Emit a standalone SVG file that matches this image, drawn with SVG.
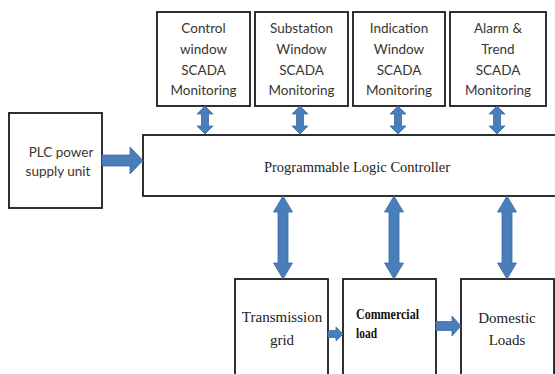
<svg xmlns="http://www.w3.org/2000/svg" width="555" height="374" viewBox="0 0 555 374">
<style>
.box{fill:#fff;stroke:#1a1a1a;stroke-width:1.8}
.arr{fill:#4a7ebb;stroke:#3d6ca3;stroke-width:0.8}
.sans{font-family:Lato,"Liberation Sans",sans-serif;font-size:13.5px;fill:#3a3530;text-anchor:middle}
.serif{font-family:"Liberation Serif","Times New Roman",serif;font-size:15px;fill:#222;text-anchor:middle}
.cond{font-family:"Liberation Serif","Times New Roman",serif;font-size:15.5px;font-weight:bold;fill:#111;text-anchor:start}
</style>
<rect width="555" height="374" fill="#fff"/>
<g id="node-control">
<rect class="box" x="157" y="12" width="93" height="94"/>
<text class="sans" x="203.5" y="33">Control</text>
<text class="sans" x="203.5" y="54">window</text>
<text class="sans" x="203.5" y="75">SCADA</text>
<text class="sans" x="203.5" y="95">Monitoring</text>
</g>
<g id="node-substation">
<rect class="box" x="255" y="12" width="93" height="94"/>
<text class="sans" x="301.5" y="33">Substation</text>
<text class="sans" x="301.5" y="54">Window</text>
<text class="sans" x="301.5" y="75">SCADA</text>
<text class="sans" x="301.5" y="95">Monitoring</text>
</g>
<g id="node-indication">
<rect class="box" x="353" y="12" width="92" height="94"/>
<text class="sans" x="399" y="33">Indication</text>
<text class="sans" x="399" y="54">Window</text>
<text class="sans" x="399" y="75">SCADA</text>
<text class="sans" x="399" y="95">Monitoring</text>
</g>
<g id="node-alarm">
<rect class="box" x="450" y="12" width="96" height="94"/>
<text class="sans" x="498" y="33">Alarm &amp;</text>
<text class="sans" x="498" y="54">Trend</text>
<text class="sans" x="498" y="75">SCADA</text>
<text class="sans" x="498" y="95">Monitoring</text>
</g>
<g id="node-power">
<rect class="box" x="9" y="113" width="93" height="95"/>
<text class="sans" x="61" y="157">PLC power</text>
<text class="sans" x="58" y="176">supply unit</text>
</g>
<g id="node-plc">
<rect class="box" x="143" y="135" width="420" height="61"/>
<text class="serif" x="357" y="172" style="font-size:14.5px">Programmable Logic Controller</text>
</g>
<g id="node-transmission">
<rect class="box" x="235" y="279" width="93" height="100"/>
<text class="serif" x="282" y="322">Transmission</text>
<text class="serif" x="282" y="345">grid</text>
</g>
<g id="node-commercial">
<rect class="box" x="343" y="279" width="93" height="100"/>
<text class="cond" x="356" y="319" textLength="63" lengthAdjust="spacingAndGlyphs">Commercial</text>
<text class="cond" x="356" y="338" textLength="21" lengthAdjust="spacingAndGlyphs">load</text>
</g>
<g id="node-domestic">
<rect class="box" x="461" y="279" width="93" height="100"/>
<text class="serif" x="507" y="323">Domestic</text>
<text class="serif" x="507" y="345">Loads</text>
</g>
<g id="connectors">
<polygon class="arr" points="205,106 213,114 208.5,114 208.5,126 213,126 205,134 197,126 201.5,126 201.5,114 197,114"/>
<polygon class="arr" points="300,106 308,114 303.5,114 303.5,126 308,126 300,134 292,126 296.5,126 296.5,114 292,114"/>
<polygon class="arr" points="398,106 406,114 401.5,114 401.5,126 406,126 398,134 390,126 394.5,126 394.5,114 390,114"/>
<polygon class="arr" points="497,106 505,114 500.5,114 500.5,126 505,126 497,134 489,126 493.5,126 493.5,114 489,114"/>
<polygon class="arr" points="283,196 292.5,212 288,212 288,263 292.5,263 283,279 273.5,263 278,263 278,212 273.5,212"/>
<polygon class="arr" points="394,196 403.5,212 399,212 399,263 403.5,263 394,279 384.5,263 389,263 389,212 384.5,212"/>
<polygon class="arr" points="507,196 516.5,212 512,212 512,263 516.5,263 507,279 497.5,263 502,263 502,212 497.5,212"/>
<polygon class="arr" points="102,155 130,155 130,147 143,160.5 130,174 130,166 102,166"/>
<polygon class="arr" points="328,330.5 336,330.5 336,327 343,334 336,341 336,337.5 328,337.5"/>
<polygon class="arr" points="436,321.5 452,321.5 452,316 461,326 452,336 452,330.5 436,330.5"/>
</g>
</svg>
